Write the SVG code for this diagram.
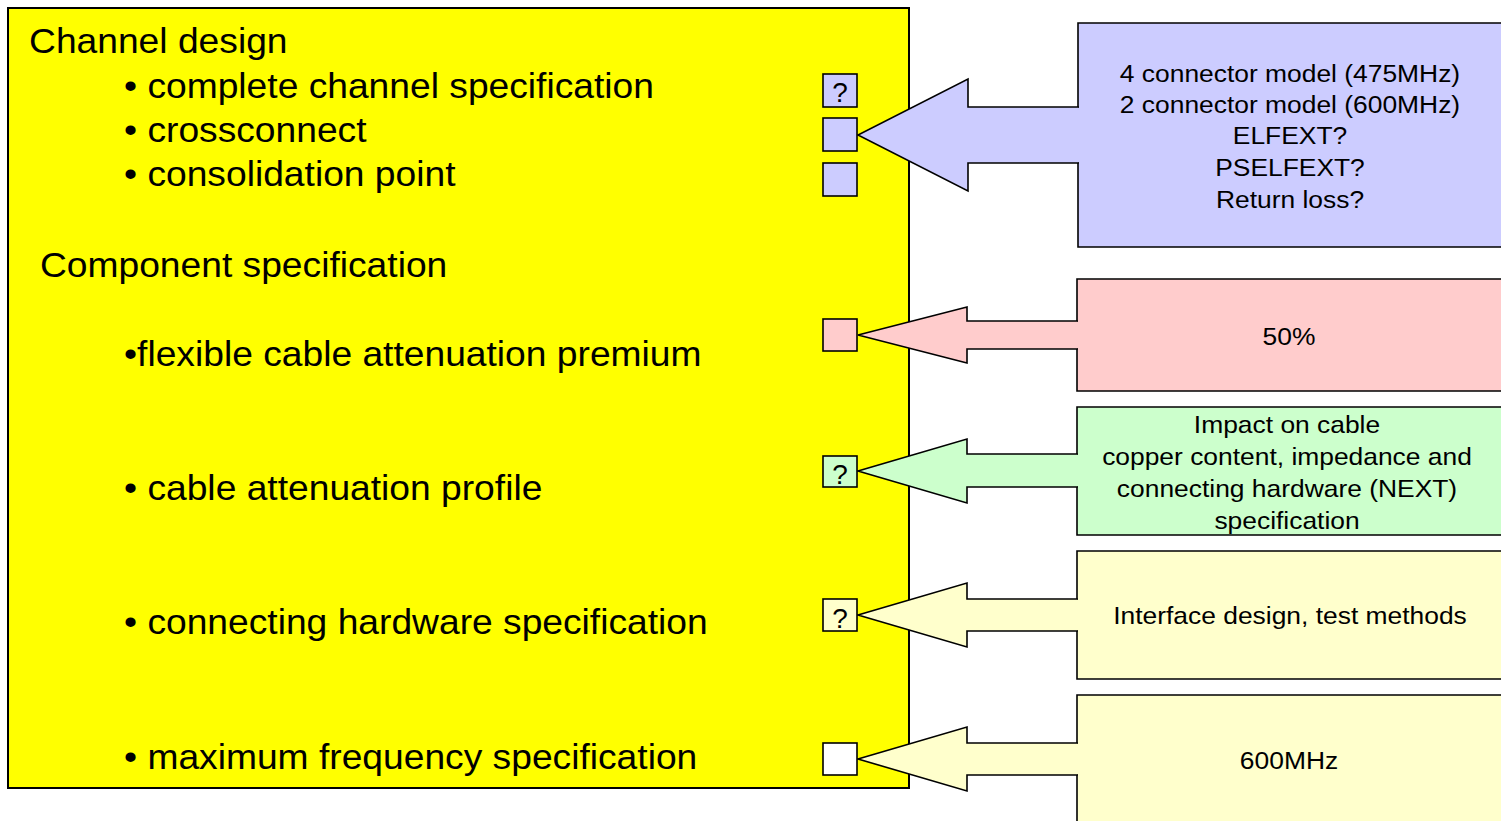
<svg xmlns="http://www.w3.org/2000/svg" width="1501" height="821" viewBox="0 0 1501 821">
<style>
  text { font-family: "Liberation Sans", Arial, sans-serif; fill: #000; }
  .main { fill: #FFFF00; stroke: #000; stroke-width: 2; }
  .lt { font-size: 35px; }
  .rt { font-size: 24px; text-anchor: middle; }
  .q { font-size: 28px; text-anchor: middle; }
  .cb { stroke: #000; stroke-width: 1.6; }
  .edge { stroke: #000; stroke-width: 1.6; stroke-linecap: square; stroke-linejoin: miter; }
  .lav { fill: #CCCCFF; }
  .pink { fill: #FFCCCC; }
  .green { fill: #CCFFCC; }
  .ly { fill: #FFFFCC; }
  .white { fill: #FFFFFF; }
</style>
<rect width="1501" height="821" fill="#FFFFFF"/>

<g id="main-panel">
  <rect class="main" x="8" y="8" width="901" height="780"/>
  <g transform="scale(1.063,1)">
    <text class="lt" x="27.3" y="53">Channel design</text>
    <text class="lt" x="116.7" y="98">• complete channel specification</text>
    <text class="lt" x="116.7" y="142">• crossconnect</text>
    <text class="lt" x="116.7" y="186">• consolidation point</text>
    <text class="lt" x="37.6" y="277">Component specification</text>
    <text class="lt" x="116.7" y="366">•flexible cable attenuation premium</text>
    <text class="lt" x="116.7" y="500">• cable attenuation profile</text>
    <text class="lt" x="116.7" y="634">• connecting hardware specification</text>
    <text class="lt" x="116.7" y="769">• maximum frequency specification</text>
  </g>
</g>

<g id="note-channel">
  <path class="edge lav" d="M1078,107 V23 H1510 V247 H1078 V163"/>
  <g transform="translate(1290,0) scale(1.1,1)">
    <text class="rt" x="0" y="82">4 connector model (475MHz)</text>
    <text class="rt" x="0" y="113">2 connector model (600MHz)</text>
    <text class="rt" x="0" y="144">ELFEXT?</text>
    <text class="rt" x="0" y="176">PSELFEXT?</text>
    <text class="rt" x="0" y="208">Return loss?</text>
  </g>
</g>

<g id="note-premium">
  <path class="edge pink" d="M1077,321 V279 H1510 V391 H1077 V349"/>
  <g transform="translate(1289,0) scale(1.1,1)">
    <text class="rt" x="0" y="345">50%</text>
  </g>
</g>

<g id="note-profile">
  <path class="edge green" d="M1077,454 V407 H1510 V535 H1077 V487"/>
  <g transform="translate(1287,0) scale(1.1,1)">
    <text class="rt" x="0" y="433">Impact on cable</text>
    <text class="rt" x="0" y="465">copper content, impedance and</text>
    <text class="rt" x="0" y="497">connecting hardware (NEXT)</text>
    <text class="rt" x="0" y="529">specification</text>
  </g>
</g>

<g id="note-hardware">
  <path class="edge ly" d="M1077,599 V551 H1510 V679 H1077 V631"/>
  <g transform="translate(1290,0) scale(1.1,1)">
    <text class="rt" x="0" y="624">Interface design, test methods</text>
  </g>
</g>

<g id="note-frequency">
  <path class="edge ly" d="M1077,743 V695 H1510 V830 H1077 V775"/>
  <g transform="translate(1289,0) scale(1.1,1)">
    <text class="rt" x="0" y="769">600MHz</text>
  </g>
</g>

<g id="connectors">
  <path class="edge lav" d="M1078,107 H968 V79 L858,135 L968,191 V163 H1078"/>
  <path class="edge pink" d="M1077,321 H967 V307 L858,335 L967,363 V349 H1077"/>
  <path class="edge green" d="M1077,454 H967 V439 L858,471 L967,503 V487 H1077"/>
  <path class="edge ly" d="M1077,599 H967 V583 L858,615 L967,647 V631 H1077"/>
  <path class="edge ly" d="M1077,743 H967 V727 L858,759 L967,791 V775 H1077"/>
</g>

<g id="check-complete">
  <rect class="cb lav" x="823" y="74" width="34" height="33"/>
  <text class="q" x="840" y="102">?</text>
</g>
<g id="check-crossconnect">
  <rect class="cb lav" x="823" y="118" width="34" height="33"/>
</g>
<g id="check-consolidation">
  <rect class="cb lav" x="823" y="163" width="34" height="33"/>
</g>
<g id="check-premium">
  <rect class="cb pink" x="823" y="319" width="34" height="32"/>
</g>
<g id="check-profile">
  <rect class="cb green" x="823" y="456" width="34" height="31"/>
  <text class="q" x="840" y="483.5">?</text>
</g>
<g id="check-hardware">
  <rect class="cb ly" x="823" y="599" width="34" height="32"/>
  <text class="q" x="840" y="627.5">?</text>
</g>
<g id="check-frequency">
  <rect class="cb white" x="823" y="743" width="34" height="32"/>
</g>
</svg>
